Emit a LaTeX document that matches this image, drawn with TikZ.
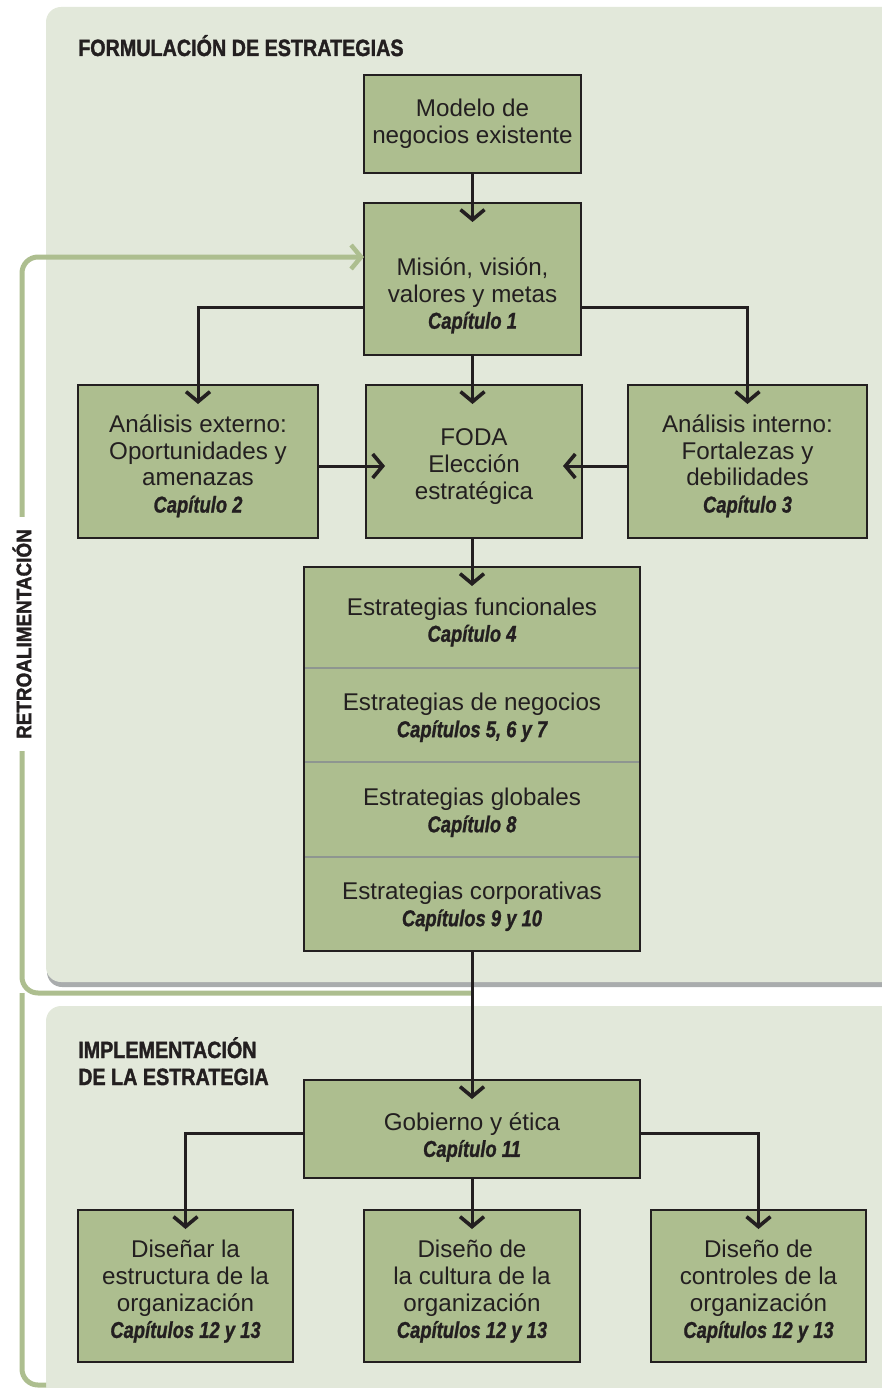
\documentclass[tikz,border=0pt]{standalone}
\usepackage{fontspec}
\setmainfont{Liberation Sans}
\newfontfamily\capfont[FakeStretch=0.8,FakeBold=1]{Liberation Sans}
\newfontfamily\headfont[FakeStretch=0.84,FakeBold=1.5]{Liberation Sans}
\newfontfamily\retrofont[FakeStretch=0.9,FakeBold=1.5]{Liberation Sans}
\usetikzlibrary{arrows.meta}
\definecolor{panelbg}{HTML}{E2E8DA}
\definecolor{boxfill}{HTML}{ADBE8F}
\definecolor{fbgreen}{HTML}{ADBE8F}
\definecolor{dark}{HTML}{231F20}
\definecolor{divgray}{HTML}{8E9690}
\definecolor{shadowgray}{HTML}{A9ACAD}
\newcommand{\mycap}[1]{{\capfont\bfseries\itshape\fontsize{23}{26.7}\selectfont #1}}
\begin{document}
\begin{tikzpicture}[x=1pt,y=-1pt,
  box/.style={draw=dark, line width=1.6pt, fill=boxfill, inner sep=0pt, outer sep=0pt},
  txt/.style={align=center, font=\fontsize{24.2}{26.7}\selectfont, text=dark, inner sep=0pt},
  stratbox/.style={fill=boxfill, inner sep=0pt, outer sep=0pt, minimum width=336pt},
  head/.style={font=\headfont\bfseries\fontsize{23.5}{26}\selectfont, text=dark, inner sep=0pt, anchor=base west},
  conn/.style={draw=dark, line width=3pt, -{Straight Barb[length=10pt,width=24pt,line width=3.6pt]}, shorten >=-19pt},
  fb/.style={draw=fbgreen, line width=5pt, rounded corners=16pt}
]
\useasboundingbox (0,0) rectangle (882,1388);
\clip (0,0) rectangle (882,1388);
% panels
\fill[shadowgray, rounded corners=15pt] (47,12) rectangle (930,987);
\fill[panelbg, rounded corners=15pt] (46,7) rectangle (930,982);
\fill[panelbg, rounded corners=15pt] (46,1006) rectangle (930,1430);
% headers
\node[head] (formh) at (78,56) {FORMULACIÓN DE ESTRATEGIAS};
\node[head] (impl1) at (78,1058) {IMPLEMENTACIÓN};
\node[head] (impl2) at (78,1085) {DE LA ESTRATEGIA};
% boxes
\node[box, minimum width=217pt, minimum height=98pt] (modelo) at (472.5,124) {};
\node[box, minimum width=217pt, minimum height=152pt] (mision) at (472.5,279) {};
\node[box, minimum width=240pt, minimum height=153pt] (ext) at (198,461.5) {};
\node[box, minimum width=216pt, minimum height=153pt] (foda) at (474,461.5) {};
\node[box, minimum width=239pt, minimum height=153pt] (int) at (747.5,461.5) {};
\node[stratbox, minimum height=101pt] (s1) at (472,617.5) {};
\node[stratbox, minimum height=94pt] (s2) at (472,715) {};
\node[stratbox, minimum height=95pt] (s3) at (472,809.5) {};
\node[stratbox, minimum height=94pt] (s4) at (472,904) {};
\draw[divgray, line width=2pt] (s1.south west) -- (s1.south east);
\draw[divgray, line width=2pt] (s2.south west) -- (s2.south east);
\draw[divgray, line width=2pt] (s3.south west) -- (s3.south east);
\draw[dark, line width=1.6pt] (s1.north west) rectangle (s4.south east);
\node[box, minimum width=336pt, minimum height=98pt] (gob) at (472,1129) {};
\node[box, minimum width=215pt, minimum height=152pt] (b1) at (185.5,1286) {};
\node[box, minimum width=216pt, minimum height=152pt] (b2) at (472,1286) {};
\node[box, minimum width=215pt, minimum height=152pt] (b3) at (758.5,1286) {};
% texts
\node[txt] (modelot) at (472.5,124) {Modelo de\\negocios existente};
\node[txt] (misiont) at (472.5,295.5) {Misión, visión,\\valores y metas\\\mycap{Capítulo 1}};
\node[txt] (extt) at (198,466) {Análisis externo:\\Oportunidades y\\amenazas\\\mycap{Capítulo 2}};
\node[txt] (fodat) at (474,466.5) {FODA\\Elección\\estratégica};
\node[txt] (intt) at (747.5,466) {Análisis interno:\\Fortalezas y\\debilidades\\\mycap{Capítulo 3}};
\node[txt] (s1t) at (472,622) {Estrategias funcionales\\\mycap{Capítulo 4}};
\node[txt] (s2t) at (472,717.5) {Estrategias de negocios\\\mycap{Capítulos 5, 6 y 7}};
\node[txt] (s3t) at (472,812.5) {Estrategias globales\\\mycap{Capítulo 8}};
\node[txt] (s4t) at (472,906.5) {Estrategias corporativas\\\mycap{Capítulos 9 y 10}};
\node[txt] (gobt) at (472,1137) {Gobierno y ética\\\mycap{Capítulo 11}};
\node[txt] (b1t) at (185.5,1291.5) {Diseñar la\\estructura de la\\organización\\\mycap{Capítulos 12 y 13}};
\node[txt] (b2t) at (472,1291.5) {Diseño de\\la cultura de la\\organización\\\mycap{Capítulos 12 y 13}};
\node[txt] (b3t) at (758.5,1291.5) {Diseño de\\controles de la\\organización\\\mycap{Capítulos 12 y 13}};
% feedback loop
\coordinate (fbj) at (472,993);
\coordinate (fbtop) at (22,257);
\coordinate (fbbot) at (46,1385);
\draw[fb, -{Straight Barb[length=10pt,width=24pt,line width=4.5pt]}] (fbj) -- (22,993) -- (fbtop) -- (mision.west |- fbtop);
\draw[fb] (fbbot) -- (22,1385) -- (22,993);
\node[rotate=90, fill=white, inner xsep=12pt, inner ysep=2pt, font=\retrofont\bfseries\fontsize{21}{24}\selectfont, text=dark] (retro) at (22,634) {RETROALIMENTACIÓN};
% connectors
\draw[conn] (modelo.south) -- (mision.north);
\draw[conn] (mision.south) -- (mision.south |- foda.north);
\draw[conn] ([yshift=-28pt]mision.west) -| (ext.north);
\draw[conn] ([yshift=-28pt]mision.east) -| (int.north);
\draw[conn] ([yshift=-4.5pt]ext.east) -- ([yshift=-4.5pt]foda.west);
\draw[conn] ([yshift=-4.5pt]int.west) -- ([yshift=-4.5pt]foda.east);
\draw[conn] (foda.south -| s1.north) -- (s1.north);
\draw[conn] (s4.south) -- (gob.north);
\draw[conn] ([yshift=-4pt]gob.west) -| (b1.north);
\draw[conn] (gob.south) -- (b2.north);
\draw[conn] ([yshift=-4pt]gob.east) -| (b3.north);
\end{tikzpicture}
\end{document}
